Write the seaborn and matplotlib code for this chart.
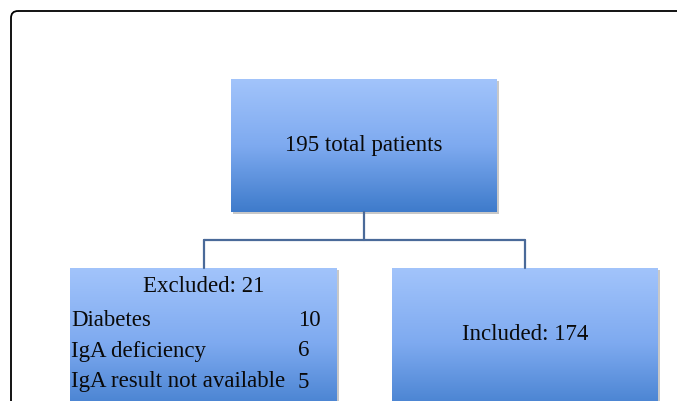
import numpy as np
import matplotlib
matplotlib.use("Agg")
import matplotlib.pyplot as plt
import seaborn as sns
from matplotlib.patches import FancyBboxPatch, Rectangle
from matplotlib.colors import LinearSegmentedColormap

# ---- data ----
total_label = "195 total patients"
excluded_title = "Excluded: 21"
excluded_reasons = ["Diabetes", "IgA deficiency", "IgA result not available"]
excluded_counts = [10, 6, 5]
included_label = "Included: 174"

sns.set_theme(style="white")
plt.rcParams['font.family'] = ['Liberation Serif', 'DejaVu Serif']

fig = plt.figure(figsize=(6.77, 4.01), dpi=100)
ax = fig.add_axes([0, 0, 1, 1])
ax.set_xlim(0, 677)
ax.set_ylim(401, 0)
ax.axis("off")

grad_colors = sns.blend_palette(["#a2c4fb", "#7eaaf0", "#3e7bcb"], n_colors=256)
cmap = LinearSegmentedColormap.from_list("g", grad_colors)
grad = np.linspace(0, 1, 256).reshape(-1, 1)

def box(x0, x1, y0, y1, full_h=None):
    # shadow
    ax.add_patch(Rectangle((x0 + 2, y0 + 2), x1 - x0, y1 - y0,
                           facecolor="#c8c8c8", edgecolor="none", zorder=1))
    h = full_h if full_h else (y1 - y0)
    g = grad[: int(256 * (y1 - y0) / h)] if full_h else grad
    ax.imshow(g, cmap=cmap, vmin=0, vmax=1, aspect="auto",
              extent=(x0, x1, y1, y0), zorder=2, interpolation="bilinear")

# outer rounded frame
ax.add_patch(FancyBboxPatch((11, 11), 720, 420,
                            boxstyle="round,pad=0,rounding_size=7",
                            facecolor="none", edgecolor="black", lw=1.3, zorder=5))

line_c = "#4a6a99"
# connectors
ax.plot([364, 364], [212, 240], color=line_c, lw=1.6, zorder=3)
ax.plot([204, 525], [240, 240], color=line_c, lw=1.6, zorder=3)
ax.plot([204, 204], [240, 268], color=line_c, lw=1.6, zorder=3)
ax.plot([525, 525], [240, 268], color=line_c, lw=1.6, zorder=3)

# boxes
box(231, 497, 79, 212)
box(70, 337, 268, 401, full_h=150)
box(392, 658, 268, 401, full_h=150)

ax.set_xlim(0, 677)
ax.set_ylim(401, 0)

fs = 16.5
tc = "#0a0a0a"
ax.text(364, 145, total_label, ha="center", va="center", fontsize=fs, color=tc, zorder=6)
ax.text(204, 287, excluded_title, ha="center", va="center", fontsize=fs, color=tc, zorder=6)
ys = [320, 351, 382]
for y, r, c in zip(ys, excluded_reasons, excluded_counts):
    ax.text(71, y, r, ha="left", va="center", fontsize=fs, color=tc, zorder=6)
    ax.text(298, y, str(c), ha="left", va="center", fontsize=fs, color=tc, zorder=6)
ax.text(525, 334, included_label, ha="center", va="center", fontsize=fs, color=tc, zorder=6)

fig.savefig("out.png", dpi=100, facecolor="white")
